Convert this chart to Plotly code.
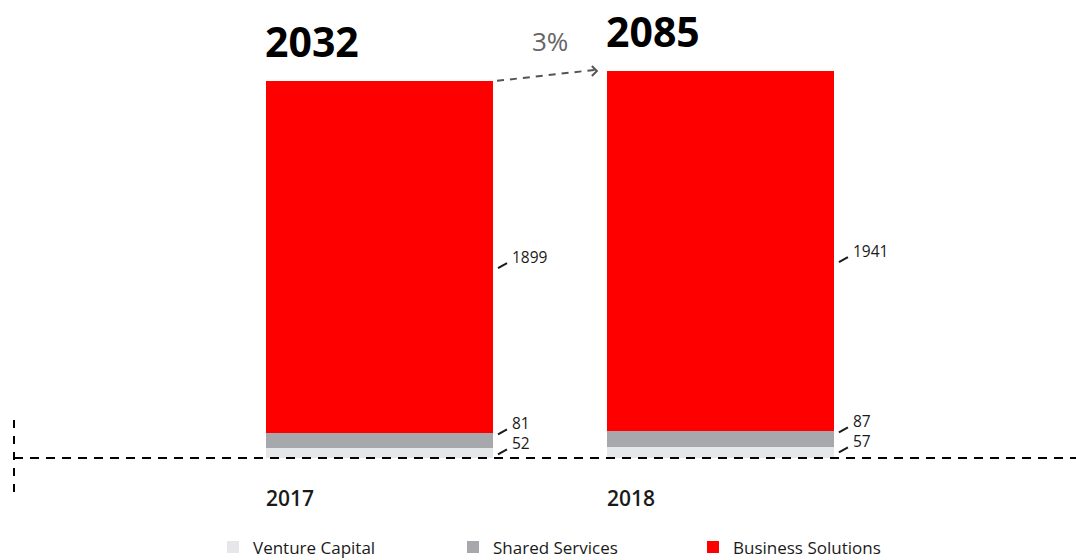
import plotly.graph_objects as go

# Revenue by segment
years = ["2017", "2018"]
venture_capital = [52, 57]
shared_services = [81, 87]
business_solutions = [1899, 1941]
growth_label = "3%"

segments = [
    ("Venture Capital", venture_capital, "#E6E7E8"),
    ("Shared Services", shared_services, "#A7A8AB"),
    ("Business Solutions", business_solutions, "#FF0000"),
]

xpos = list(range(len(years)))
bar_w = 0.666
half = bar_w / 2
totals = [a + b + c for a, b, c in zip(venture_capital, shared_services, business_solutions)]

FONT = "Open Sans"
INK = "#1a1a1a"
VAL_SIZE = 15.5

fig = go.Figure()
for name, vals, color in segments:
    fig.add_trace(go.Bar(
        x=xpos, y=vals, name=name, width=bar_w,
        marker=dict(color=color, line=dict(width=0)),
        hoverinfo="skip",
    ))

annotations = []
shapes = []


def leader(anchor_x, anchor_y, shift):
    # short diagonal tick pointing from the bar edge to a value label
    return dict(
        type="line", xref="x", yref="y",
        xsizemode="pixel", ysizemode="pixel",
        xanchor=anchor_x, yanchor=anchor_y,
        x0=5, x1=14, y0=shift - 11, y1=shift - 6,
        line=dict(color=INK, width=2),
    )


for i, yr in enumerate(years):
    left = xpos[i] - half
    right = xpos[i] + half
    # total above the bar
    annotations.append(dict(
        x=left, y=totals[i], xref="x", yref="y", text=f"<b>{totals[i]}</b>",
        showarrow=False, xanchor="left", yanchor="middle", yshift=40, xshift=-3,
        font=dict(family=FONT, size=41, color="#000000"),
    ))
    # year label under the axis line
    annotations.append(dict(
        x=left, y=0, xref="x", yref="y", text=yr,
        showarrow=False, xanchor="left", yanchor="middle", yshift=-40, xshift=-2,
        font=dict(family=FONT, size=21, color=INK, weight=600),
    ))

    vc, ss, bs = venture_capital[i], shared_services[i], business_solutions[i]
    ss_top = vc + ss
    bs_mid = ss_top + bs / 2

    # business solutions value at the middle of its segment
    annotations.append(dict(
        x=right, y=bs_mid, xref="x", yref="y", text=str(bs),
        showarrow=False, xanchor="left", yanchor="middle", xshift=17,
        font=dict(family=FONT, size=VAL_SIZE, color=INK, weight=500),
    ))
    shapes.append(leader(right, bs_mid, 0))

    # the two thin segments share one stacked label block
    annotations.append(dict(
        x=right, y=ss_top, xref="x", yref="y", text=f"{ss}<br>{vc}",
        showarrow=False, xanchor="left", yanchor="middle", xshift=17,
        align="left",
        font=dict(family=FONT, size=VAL_SIZE, color=INK, weight=500),
    ))
    shapes.append(leader(right, ss_top, 10))
    shapes.append(leader(right, ss_top, -10))

# growth arrow between the two totals
shapes.append(dict(
    type="line", xref="x", yref="y",
    xsizemode="pixel", ysizemode="pixel",
    xanchor=xpos[0] + half, yanchor=totals[0],
    x0=4, y0=0, x1=102, y1=11,
    line=dict(color="#555555", width=2, dash="7px,6px"),
))
shapes.append(dict(
    type="path", xref="x", yref="y",
    xsizemode="pixel", ysizemode="pixel",
    xanchor=xpos[1] - half, yanchor=totals[1],
    path="M -15 5 L -10 0 L -15 -5",
    line=dict(color="#555555", width=2),
))
annotations.append(dict(
    x=(xpos[0] + xpos[1]) / 2, y=max(totals), xref="x", yref="y",
    text=growth_label, showarrow=False, xanchor="center", yanchor="middle",
    yshift=30, font=dict(family=FONT, size=26, color="#666666"),
))

# dashed baseline and vertical dashed marker
shapes.append(dict(
    type="line", xref="paper", yref="y", x0=14 / 1076, x1=1, y0=0, y1=0,
    line=dict(color="#000000", width=2, dash="9px,7px"),
))
shapes.append(dict(
    type="line", xref="paper", yref="y", x0=14 / 1076, x1=14 / 1076,
    y0=-183, y1=205,
    line=dict(color="#000000", width=2, dash="8px,8px"),
))

fig.update_layout(
    barmode="stack",
    width=1076, height=560,
    margin=dict(l=0, r=0, t=20, b=40, autoexpand=False),
    plot_bgcolor="white", paper_bgcolor="white",
    xaxis=dict(range=[-1.113, 2.043], visible=False, fixedrange=True),
    yaxis=dict(range=[-334.1, 2359.9], visible=False, fixedrange=True),
    annotations=annotations,
    shapes=shapes,
    showlegend=True,
    legend=dict(
        orientation="h", x=213 / 1076, xanchor="left", y=-0.019, yanchor="top",
        entrywidth=195, entrywidthmode="pixels", traceorder="normal",
        font=dict(family=FONT, size=17, color=INK, weight=500),
        itemclick=False, itemdoubleclick=False,
    ),
    font=dict(family=FONT),
)

fig.write_html("out.html")
